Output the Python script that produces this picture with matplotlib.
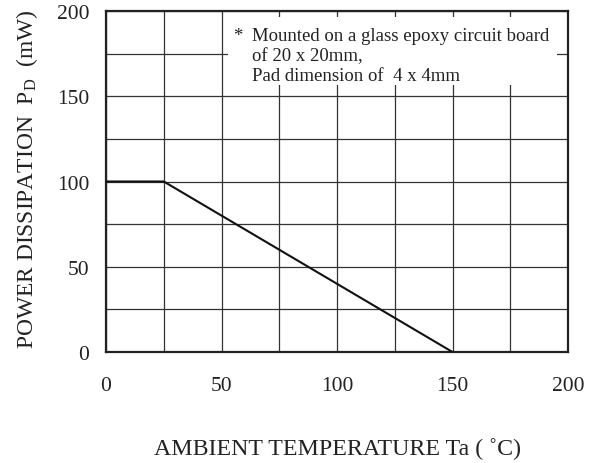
import matplotlib
matplotlib.use("Agg")
import matplotlib.pyplot as plt
from matplotlib.patches import Rectangle

plt.rcParams['font.family'] = ['Liberation Serif', 'DejaVu Serif']
plt.rcParams['mathtext.fontset'] = 'custom'
plt.rcParams['mathtext.rm'] = 'Liberation Serif'

temp = [0, 25, 150]
power = [100, 100, 0]
xticks = [0, 50, 100, 150, 200]
yticks = [0, 50, 100, 150, 200]
note = ["Mounted on a glass epoxy circuit board",
        "of 20 x 20mm,",
        "Pad dimension of  4 x 4mm"]

fig = plt.figure(figsize=(6.01, 4.64), dpi=100)
ax = fig.add_axes([106/601, 1-353/464, 462/601, 341/464])
ax.set_xlim(0, 200)
ax.set_ylim(0, 200)
ax.set_xticks(range(0, 201, 25))
ax.set_yticks(range(0, 201, 25))
ax.set_xticklabels([str(v) if v in xticks else '' for v in range(0, 201, 25)])
ax.set_yticklabels([str(v) if v in yticks else '' for v in range(0, 201, 25)])
ax.grid(True, color='#333333', linewidth=0.9)
ax.tick_params(length=0, labelsize=15.5, colors='#222222')
ax.tick_params(axis='x', pad=17)
ax.tick_params(axis='y', pad=12)
for s in ax.spines.values():
    s.set_linewidth(1.6)
    s.set_color('#222222')

ax.add_patch(Rectangle((52.8, 156.6), 142.4, 39.9, facecolor='white', edgecolor='none', zorder=2.5))
ax.plot(temp, power, color='#111111', linewidth=1.5, zorder=3)

ax.text(55, 185.5, '*', fontsize=13.5, color='#222222', va='center', ha='left', zorder=4)
ys = [185.5, 173.8, 162.2]
for t, yy in zip(note, ys):
    ax.text(63.2, yy, t, fontsize=13.5, color='#222222', va='center', ha='left', zorder=4)

ax.set_xlabel('AMBIENT TEMPERATURE Ta ( \u02daC)', fontsize=17.2, color='#222222')
ax.xaxis.set_label_coords(0.5, -0.249)
ax.set_ylabel('POWER DISSIPATION  P$_\\mathrm{D}$  (mW)', fontsize=16.9, color='#222222')
ax.yaxis.set_label_coords(-0.142, 0.51)

fig.savefig('out.png', dpi=100)
